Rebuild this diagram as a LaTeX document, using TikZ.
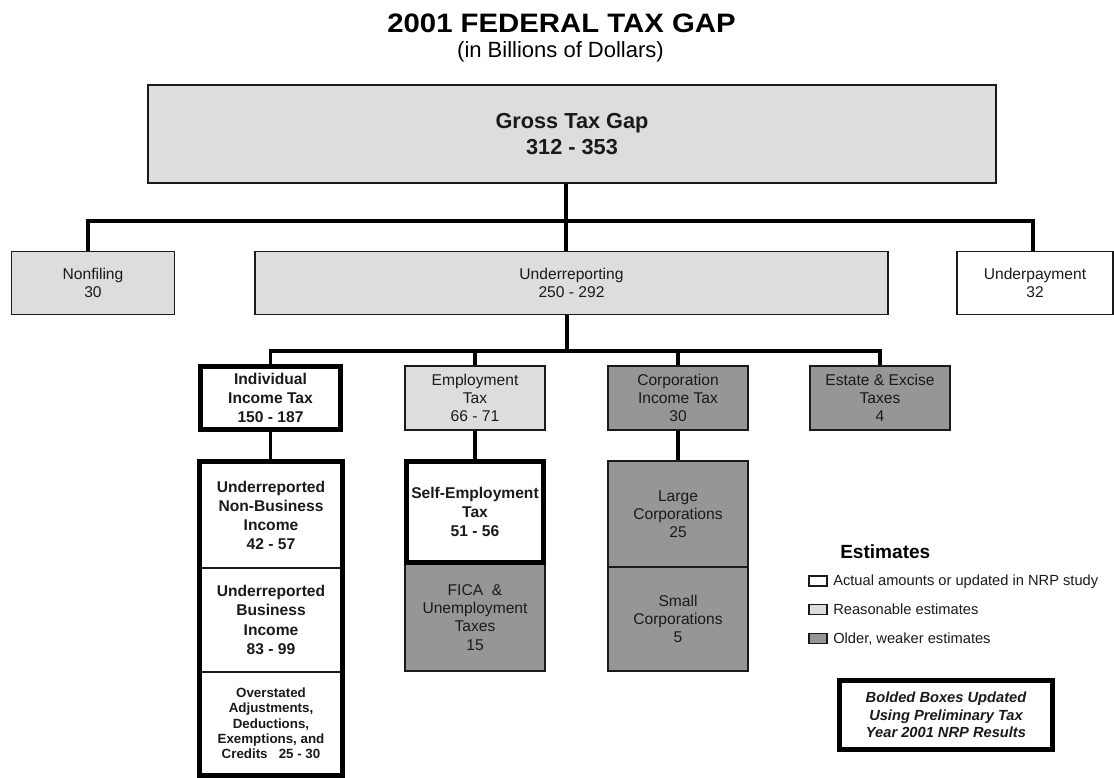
\documentclass[tikz,border=0pt]{standalone}
\usepackage{fontspec}
\setmainfont{Liberation Sans}
\newfontfamily\titlefont[FakeStretch=1.1]{Liberation Sans}
\definecolor{lightfill}{HTML}{DDDDDD}
\definecolor{darkfill}{HTML}{969696}
\definecolor{ink}{HTML}{1A1A1A}
\begin{document}
\begin{tikzpicture}[x=0.75pt,y=-0.75pt,
  bx/.style 2 args={minimum width={#1*0.75pt}, minimum height={#2*0.75pt}},
  base/.style={draw=ink, line width=1.1pt, inner sep=0pt, align=center, text=ink,
    font=\fontsize{11.7}{13.6}\selectfont},
  lightbox/.style={base, fill=lightfill},
  darkbox/.style={base, fill=darkfill},
  whitebox/.style={base, fill=white},
  boldbox/.style={base, fill=white, line width=3.75pt, draw=black,
    font=\bfseries\fontsize{11.7}{14.2}\selectfont},
  boldtext/.style={font=\bfseries\fontsize{11.7}{14.4}\selectfont},
  conn/.style={line width=2.8pt, draw=black, line join=miter},
  swatch/.style={draw=ink, line width=0.9pt, minimum width={18*0.75pt}, minimum height={10*0.75pt}, inner sep=0pt},
  legtext/.style={anchor=base west, inner sep=0pt, text=ink, font=\fontsize{11}{13}\selectfont}
]
\useasboundingbox (0,0) rectangle (1114,778);

% titles
\node[anchor=base, inner sep=0pt, font=\titlefont\bfseries\fontsize{20}{24}\selectfont] (title) at (561.5,32) {2001 FEDERAL TAX GAP};
\node[anchor=base, inner sep=0pt, font=\fontsize{16.5}{20}\selectfont] (sub) at (560.5,57) {(in Billions of Dollars)};

% level 0
\node[lightbox, bx={848}{98}, font=\bfseries\fontsize{16.3}{20}\selectfont] (G) at (572,134) {Gross Tax Gap\\312 - 353};

% level 1
\node[lightbox, bx={163}{63}] (NF) at (93,283) {Nonfiling\\30};
\node[lightbox, bx={633}{63}] (UR) at (571.5,283) {Underreporting\\250 - 292};
\node[whitebox, bx={156}{63}] (UP) at (1035,283) {Underpayment\\32};

% level 2
\node[boldbox, bx={140}{63}] (IND) at (270.5,398) {Individual\\Income Tax\\150 - 187};
\node[lightbox, bx={140}{64}] (EMP) at (475,398) {Employment\\Tax\\66 - 71};
\node[darkbox, bx={140}{64}] (CORP) at (678,398) {Corporation\\Income Tax\\30};
\node[darkbox, bx={140}{64}] (EST) at (880,398) {Estate \& Excise\\Taxes\\4};

% individual stack
\node[whitebox, boldtext, bx={141}{105.5}] (S1) at (271,515.25) {Underreported\\Non-Business\\Income\\42 - 57};
\node[whitebox, boldtext, bx={141}{104}] (S2) at (271,620) {Underreported\\Business\\Income\\83 - 99};
\node[whitebox, bx={141}{102.5}, font=\bfseries\fontsize{10}{11.6}\selectfont] (S3) at (271,723.25) {Overstated\\Adjustments,\\Deductions,\\Exemptions, and\\Credits\ \ \ 25 - 30};
\draw[line width=3.75pt, draw=black] (S1.north west) rectangle (S3.south east);

% employment stack
\node[darkbox, bx={140}{107}] (FICA) at (475,617.5) {FICA\ \ \&\\Unemployment\\Taxes\\15};
\node[boldbox, bx={137}{101}] (SE) at (475,512) {Self-Employment\\Tax\\51 - 56};

% corporation stack
\node[darkbox, bx={140}{106}] (LC) at (678,514) {Large\\Corporations\\25};
\node[darkbox, bx={140}{104}] (SC) at (678,619) {Small\\Corporations\\5};

% connectors
\coordinate (b1) at (566,221);
\coordinate (b1L) at (88,221);
\coordinate (b1R) at (1033,221);
\draw[conn] (G.south -| b1) -- (b1);
\draw[conn] (NF.north -| b1L) -- (b1L) -- (b1R) -- (b1R |- UP.north);
\draw[conn] (b1) -- (b1 |- UR.north);

\coordinate (b2) at (567,351);
\draw[conn] (UR.south -| b2) -- (b2);
\draw[conn] (IND.north) -- (IND.north |- b2) -- (EST.north |- b2) -- (EST.north);
\draw[conn] (EMP.north |- b2) -- (EMP.north);
\draw[conn] (CORP.north |- b2) -- (CORP.north);

\draw[conn] (IND.south) -- (S1.north -| IND.south);
\draw[conn] (EMP.south) -- (SE.north);
\draw[conn] (CORP.south) -- (LC.north);

% legend
\node[anchor=base west, inner sep=0pt, text=black, font=\bfseries\fontsize{14.3}{17}\selectfont] (leg) at (840,558) {Estimates};
\node[swatch, fill=white] (w1) at (818,581) {};
\node[swatch, fill=lightfill] (w2) at (818,609.5) {};
\node[swatch, fill=darkfill] (w3) at (818,638.5) {};
\node[legtext] (t1) at (833,585) {Actual amounts or updated in NRP study};
\node[legtext] (t2) at (833,614) {Reasonable estimates};
\node[legtext] (t3) at (833,643) {Older, weaker estimates};

\node[whitebox, bx={213}{69}, line width=3.75pt, draw=black,
  font=\bfseries\itshape\fontsize{11}{13}\selectfont] (note) at (946,715)
  {Bolded Boxes Updated\\Using Preliminary Tax\\Year 2001 NRP Results};
\end{tikzpicture}
\end{document}
